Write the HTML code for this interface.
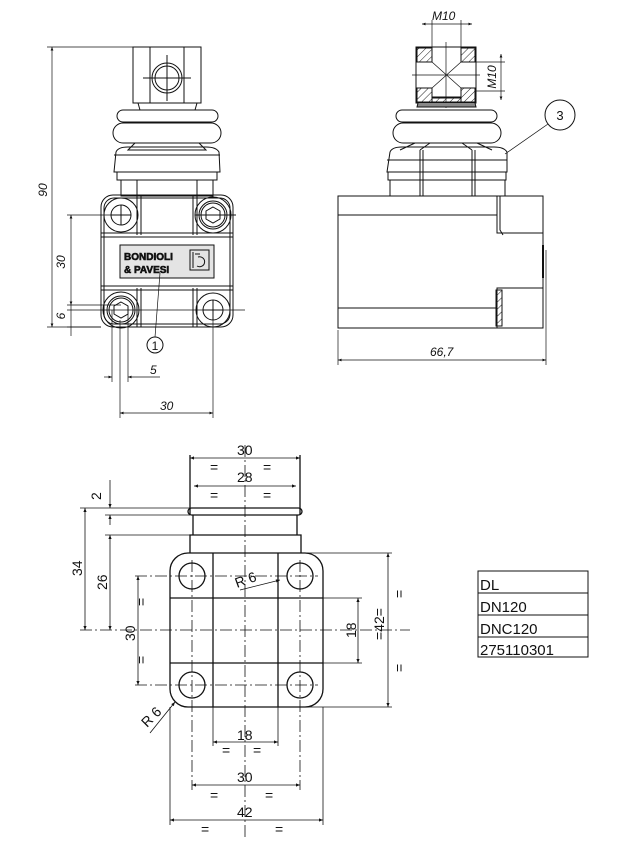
<!DOCTYPE html>
<html><head><meta charset="utf-8"><style>
html,body{margin:0;padding:0;background:#fff;}
svg{display:block}
text{font-family:"Liberation Sans",sans-serif;fill:#111}
.m{font-family:"Liberation Mono",monospace}
</style></head><body>
<svg width="618" height="856" viewBox="0 0 618 856" xmlns="http://www.w3.org/2000/svg">
<defs>
<marker id="a" viewBox="0 0 10 10" refX="10" refY="5" markerWidth="7" markerHeight="5" orient="auto-start-reverse"><path d="M0,1 L10,5 L0,9z" fill="#111"/></marker>
<pattern id="h" width="5" height="5" patternUnits="userSpaceOnUse" patternTransform="rotate(45)"><line x1="0" y1="0" x2="0" y2="5" stroke="#222" stroke-width="1"/></pattern>
</defs>
<g fill="none" stroke="#111" stroke-width="1">
<!-- ===== TOP LEFT VIEW ===== -->
<rect x="133" y="47" width="68" height="56"/>
<line x1="150" y1="47" x2="150" y2="103"/><line x1="184" y1="47" x2="184" y2="103"/>
<circle cx="167" cy="78" r="15"/><circle cx="167" cy="78" r="12"/>
<line x1="143" y1="78" x2="191" y2="78"/><line x1="167" y1="55" x2="167" y2="101"/>
<path d="M138,103 L140,110 L195,110 L197,103"/>
<rect x="117" y="110" width="101" height="12" rx="6"/>
<rect x="113" y="123" width="108" height="20" rx="10"/>
<path d="M135,143 L128,150 L206,150 L199,143"/>
<path d="M116,152 Q118,147 128,147 L206,147 Q216,147 219,152 L220,172 L114,172z"/>
<line x1="114" y1="155" x2="220" y2="155"/>
<rect x="117" y="172" width="100" height="8"/>
<rect x="121" y="180" width="92" height="16"/>
<line x1="137" y1="180" x2="137" y2="196"/><line x1="197" y1="180" x2="197" y2="196"/>
<rect x="101" y="195" width="132" height="132" rx="12"/>
<rect x="104" y="198" width="126" height="126" rx="10"/>
<line x1="101" y1="233" x2="233" y2="233"/><line x1="101" y1="237" x2="233" y2="237"/>
<line x1="101" y1="286" x2="233" y2="286"/><line x1="101" y1="290" x2="233" y2="290"/>
<line x1="137" y1="196" x2="137" y2="235"/><line x1="141" y1="196" x2="141" y2="235"/>
<line x1="193" y1="196" x2="193" y2="235"/><line x1="197" y1="196" x2="197" y2="235"/>
<line x1="137" y1="288" x2="137" y2="327"/><line x1="141" y1="288" x2="141" y2="327"/>
<line x1="193" y1="288" x2="193" y2="327"/><line x1="197" y1="288" x2="197" y2="327"/>
<circle cx="121" cy="215" r="10"/><circle cx="121" cy="215" r="17"/>
<line x1="111" y1="215" x2="131" y2="215"/><line x1="121" y1="205" x2="121" y2="225"/>
<circle cx="213" cy="215" r="14"/><circle cx="213" cy="215" r="12"/><circle cx="213" cy="215" r="18"/>
<polygon points="213,207 220,211 220,219 213,223 206,219 206,211"/>
<line x1="195" y1="215" x2="236" y2="215"/>
<circle cx="121" cy="310" r="14"/><circle cx="121" cy="310" r="12"/><circle cx="121" cy="310" r="18"/>
<polygon points="121,302 128,306 128,314 121,318 114,314 114,306"/>
<circle cx="213" cy="310" r="10"/><circle cx="213" cy="310" r="17"/>
<line x1="203" y1="310" x2="223" y2="310"/><line x1="213" y1="300" x2="213" y2="320"/>
<rect x="120" y="245" width="94" height="33" fill="#e4e4e4"/>
<rect x="190" y="250" width="19" height="20"/>
<path d="M193,252 L193,268 M195,254 L200,254 M198,257 A5,5 0 1 1 197,266"/>
<!-- dims left -->
<line x1="47" y1="47" x2="133" y2="47" stroke-width=".7"/>
<line x1="47" y1="327" x2="101" y2="327" stroke-width=".7"/>
<line x1="52" y1="47" x2="52" y2="327" marker-start="url(#a)" marker-end="url(#a)" stroke-width=".7"/>
<line x1="67" y1="215" x2="121" y2="215" stroke-width=".7"/>
<line x1="67" y1="305" x2="121" y2="305" stroke-width=".7"/>
<line x1="71" y1="215" x2="71" y2="305" marker-start="url(#a)" marker-end="url(#a)" stroke-width=".7"/>
<line x1="71" y1="305" x2="71" y2="336" stroke-width=".7"/>
<line x1="67" y1="327" x2="101" y2="327" stroke-width=".7"/>
<line x1="67" y1="310" x2="245" y2="310" stroke-width=".7"/>
<line x1="112" y1="310" x2="112" y2="382" stroke-width=".7"/><line x1="128" y1="310" x2="128" y2="382" stroke-width=".7"/>
<line x1="104" y1="377" x2="112" y2="377" marker-end="url(#a)" stroke-width=".7"/>
<line x1="160" y1="377" x2="128" y2="377" marker-end="url(#a)" stroke-width=".7"/>
<line x1="120" y1="320" x2="120" y2="418" stroke-width=".7"/><line x1="213" y1="320" x2="213" y2="418" stroke-width=".7"/>
<line x1="120" y1="413" x2="213" y2="413" marker-start="url(#a)" marker-end="url(#a)" stroke-width=".7"/>
<circle cx="155" cy="345" r="8"/>
<line x1="155" y1="337" x2="160" y2="273" stroke-width=".7"/>
<!-- ===== TOP RIGHT VIEW ===== -->
<rect x="416" y="47" width="60" height="56"/>
<path d="M417,48 H432 V62 H417z M461,48 H475 V62 H461z M417,88 H432 V102 H417z M461,88 H475 V102 H461z M432,97 H461 V102 H432z" fill="url(#h)"/>
<path d="M418,62 H432 L432,50 M461,50 L461,62 H475 M418,88 H432 V98 H461 V88 H475"/>
<line x1="432" y1="62" x2="461" y2="88" stroke-width=".7"/><line x1="461" y1="62" x2="432" y2="88" stroke-width=".7"/>
<line x1="446" y1="42" x2="446" y2="108" stroke-width=".7"/><line x1="412" y1="75" x2="480" y2="75" stroke-width=".7"/>
<line x1="432" y1="20" x2="432" y2="48" stroke-width=".7"/><line x1="461" y1="20" x2="461" y2="48" stroke-width=".7"/>
<line x1="422" y1="24" x2="472" y2="24" marker-start="url(#a)" marker-end="url(#a)" stroke-width=".7"/>
<line x1="476" y1="62" x2="505" y2="62" stroke-width=".7"/><line x1="476" y1="91" x2="505" y2="91" stroke-width=".7"/>
<line x1="501" y1="54" x2="501" y2="100" marker-start="url(#a)" marker-end="url(#a)" stroke-width=".7"/>
<path d="M418,103 L417,107 L476,107 L475,103" fill="#888"/>
<rect x="396" y="110" width="101" height="12" rx="6"/>
<rect x="393" y="123" width="108" height="20" rx="10"/>
<path d="M415,143 L400,150 M477,143 L492,150 M430,143 L420,150 M462,143 L472,150"/>
<path d="M390,152 Q392,147 402,147 L494,147 Q504,147 507,152 L507,172 L387,172z"/>
<line x1="420" y1="150" x2="420" y2="196"/><line x1="423" y1="150" x2="423" y2="196"/>
<line x1="472" y1="150" x2="472" y2="196"/><line x1="475" y1="150" x2="475" y2="196"/>
<line x1="387" y1="160" x2="507" y2="160"/>
<rect x="388" y="172" width="118" height="8"/>
<rect x="390" y="180" width="115" height="16"/>
<rect x="338" y="196" width="205" height="132"/>
<line x1="338" y1="215" x2="497" y2="215"/><line x1="338" y1="308" x2="497" y2="308"/>
<path d="M497,196 V233 H543 M500,196 V230 L503,235"/>
<path d="M497,328 V288 H543"/>
<rect x="496" y="290" width="6" height="36" fill="url(#h)"/>
<line x1="543" y1="245" x2="543" y2="278" stroke-width="2"/>
<line x1="338" y1="330" x2="338" y2="365" stroke-width=".7"/><line x1="546" y1="250" x2="546" y2="365" stroke-width=".7"/>
<line x1="338" y1="360" x2="546" y2="360" marker-start="url(#a)" marker-end="url(#a)" stroke-width=".7"/>
<circle cx="560" cy="115" r="15"/>
<line x1="548" y1="124" x2="505" y2="154" stroke-width=".7"/>
<!-- ===== BOTTOM VIEW ===== -->
<g stroke-width="1.3">
<rect x="170" y="553" width="153" height="154" rx="18"/>
<path d="M190,553 V535 H301 V553"/>
<path d="M193,535 V515 M297,535 V515 M190,515 V455 M300,515 V455"/>
<rect x="188" y="508" width="114" height="7" rx="3.5"/>
<path d="M213,553 V707 M278,553 V707 M170,598 H323 M170,663 H323"/>
<circle cx="192" cy="576" r="13"/><circle cx="300" cy="576" r="13"/>
<circle cx="192" cy="685" r="13"/><circle cx="300" cy="685" r="13"/>
</g>
<g stroke-dasharray="12,3,2,3" stroke-width=".8">
<line x1="80" y1="630" x2="410" y2="630"/><line x1="245" y1="445" x2="245" y2="840"/>
<line x1="192" y1="560" x2="192" y2="790"/><line x1="300" y1="560" x2="300" y2="790"/>
<line x1="135" y1="576" x2="318" y2="576"/><line x1="135" y1="685" x2="318" y2="685"/>
</g>
<g stroke-width=".8">
<line x1="190" y1="458" x2="300" y2="458" marker-start="url(#a)" marker-end="url(#a)"/>
<line x1="194" y1="486" x2="296" y2="486" marker-start="url(#a)" marker-end="url(#a)"/>
<line x1="80" y1="508" x2="190" y2="508"/><line x1="105" y1="515" x2="190" y2="515"/><line x1="105" y1="535" x2="193" y2="535"/>
<line x1="85" y1="508" x2="85" y2="630" marker-start="url(#a)" marker-end="url(#a)"/>
<line x1="110" y1="535" x2="110" y2="630" marker-start="url(#a)" marker-end="url(#a)"/>
<line x1="110" y1="480" x2="110" y2="508" marker-end="url(#a)"/><line x1="110" y1="525" x2="110" y2="515" marker-end="url(#a)"/>
<line x1="138" y1="576" x2="138" y2="685" marker-start="url(#a)" marker-end="url(#a)"/>
<line x1="323" y1="598" x2="362" y2="598"/><line x1="323" y1="663" x2="362" y2="663"/>
<line x1="358" y1="598" x2="358" y2="663" marker-start="url(#a)" marker-end="url(#a)"/>
<line x1="300" y1="553" x2="392" y2="553"/><line x1="300" y1="707" x2="392" y2="707"/>
<line x1="388" y1="553" x2="388" y2="707" marker-start="url(#a)" marker-end="url(#a)"/>
<line x1="213" y1="707" x2="213" y2="746"/><line x1="278" y1="707" x2="278" y2="746"/>
<line x1="213" y1="742" x2="278" y2="742" marker-start="url(#a)" marker-end="url(#a)"/>
<line x1="192" y1="785" x2="300" y2="785" marker-start="url(#a)" marker-end="url(#a)"/>
<line x1="170" y1="707" x2="170" y2="825"/><line x1="323" y1="707" x2="323" y2="825"/>
<line x1="170" y1="820" x2="323" y2="820" marker-start="url(#a)" marker-end="url(#a)"/>
<line x1="240" y1="590" x2="280" y2="580" marker-end="url(#a)"/>
<line x1="150" y1="733" x2="175" y2="702" marker-end="url(#a)"/>
</g>
<!-- table -->
<rect x="478" y="571" width="110" height="86"/>
<line x1="478" y1="593" x2="588" y2="593"/><line x1="478" y1="615" x2="588" y2="615"/><line x1="478" y1="637" x2="588" y2="637"/>
</g>
<!-- TEXT -->
<g font-style="italic" font-size="12">
<text x="52" y="190" transform="rotate(-90 52 190)" text-anchor="middle" dy="-5">90</text>
<text x="70" y="262" transform="rotate(-90 70 262)" text-anchor="middle" dy="-5">30</text>
<text x="70" y="316" transform="rotate(-90 70 316)" text-anchor="middle" dy="-5">6</text>
<text x="150" y="374">5</text>
<text x="160" y="410">30</text>
<text x="432" y="20">M10</text>
<text x="500" y="77" transform="rotate(-90 500 77)" text-anchor="middle" dy="-4">M10</text>
<text x="430" y="356">66,7</text>
</g>
<text x="155" y="350" font-size="12" text-anchor="middle">1</text>
<text x="560" y="120" font-size="13" text-anchor="middle">3</text>
<text x="124" y="260" font-size="10" font-weight="bold" fill="#fff" stroke="#111" stroke-width=".6">BONDIOLI</text>
<text x="124" y="273" font-size="10" font-weight="bold" fill="#fff" stroke="#111" stroke-width=".6">&amp; PAVESI</text>
<g class="m" font-size="14">
<text x="237" y="455">30</text>
<text x="237" y="482">28</text>
<text x="210" y="472">=</text><text x="263" y="472">=</text>
<text x="210" y="500">=</text><text x="263" y="500">=</text>
<text x="101" y="500" transform="rotate(-90 101 500)">2</text>
<text x="82" y="576" transform="rotate(-90 82 576)">34</text>
<text x="107" y="590" transform="rotate(-90 107 590)">26</text>
<text x="135" y="641" transform="rotate(-90 135 641)">30</text>
<text x="146" y="606" transform="rotate(-90 146 606)">=</text>
<text x="146" y="664" transform="rotate(-90 146 664)">=</text>
<text x="356" y="638" transform="rotate(-90 356 638)">18</text>
<text x="384" y="640" transform="rotate(-90 384 640)">=42=</text>
<text x="404" y="598" transform="rotate(-90 404 598)">=</text>
<text x="404" y="672" transform="rotate(-90 404 672)">=</text>
<text x="237" y="740">18</text>
<text x="222" y="755">=</text><text x="253" y="755">=</text>
<text x="237" y="782">30</text>
<text x="210" y="800">=</text><text x="265" y="800">=</text>
<text x="237" y="817">42</text>
<text x="201" y="834">=</text><text x="275" y="834">=</text>
<text x="237" y="588" transform="rotate(-20 237 588)">R 6</text>
<text x="147" y="728" transform="rotate(-45 147 728)">R 6</text>
<text x="480" y="590" font-size="15">DL</text>
<text x="480" y="612" font-size="15">DN120</text>
<text x="480" y="634" font-size="15">DNC120</text>
<text x="480" y="655" font-size="15">275110301</text>
</g>
</svg>
</body></html>
